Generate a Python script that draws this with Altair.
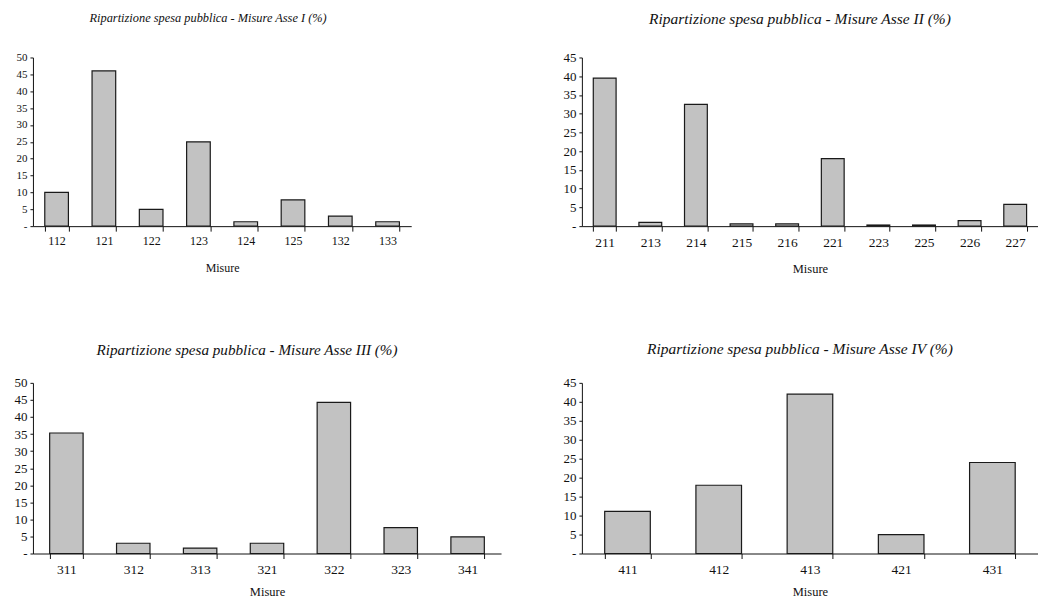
import altair as alt
import pandas as pd

# ---- data ----
codes_1 = ["112", "121", "122", "123", "124", "125", "132", "133"]
vals_1 = [10.0, 46.0, 5.0, 25.0, 1.3, 7.8, 3.0, 1.3]

codes_2 = ["211", "213", "214", "215", "216", "221", "223", "225", "226", "227"]
vals_2 = [39.5, 1.0, 32.5, 0.6, 0.6, 18.0, 0.3, 0.3, 1.5, 5.8]

codes_3 = ["311", "312", "313", "321", "322", "323", "341"]
vals_3 = [35.3, 3.0, 1.6, 3.0, 44.3, 7.6, 4.9]

codes_4 = ["411", "412", "413", "421", "431"]
vals_4 = [11.1, 18.0, 42.0, 5.0, 24.0]

titles = [
    "Ripartizione spesa pubblica - Misure Asse I (%)",
    "Ripartizione spesa pubblica - Misure Asse II (%)",
    "Ripartizione spesa pubblica - Misure Asse III (%)",
    "Ripartizione spesa pubblica - Misure Asse IV (%)",
]
y_max = [50, 45, 50, 45]
x_title = "Misure"

FONT = "Liberation Serif"


def panel(codes, vals, title, ymax, width, height, dx, title_size, title_offset,
          xlabel_size, ylabel_size, xt_size, xt_pad):
    df = pd.DataFrame({"Misura": codes, "Valore": vals})
    return (
        alt.Chart(
            df,
            title=alt.Title(
                title,
                font=FONT,
                fontSize=title_size,
                fontStyle="italic",
                fontWeight="normal",
                color="#111111",
                anchor="middle",
                frame="group",
                dx=dx,
                offset=title_offset,
            ),
        )
        .mark_bar(fill="#c2c2c2", stroke="#1a1a1a", strokeWidth=1.2)
        .encode(
            x=alt.X(
                "Misura:N",
                sort=codes,
                title=x_title,
                scale=alt.Scale(paddingInner=0.5, paddingOuter=0.25),
                axis=alt.Axis(
                    labelAngle=0,
                    tickBand="extent",
                    tickSize=5,
                    tickColor="#111111",
                    domainColor="#111111",
                    labelFont=FONT,
                    labelFontSize=xlabel_size,
                    labelColor="#111111",
                    labelPadding=4,
                    titleFont=FONT,
                    titleFontSize=xt_size,
                    titleFontWeight="normal",
                    titleColor="#111111",
                    titlePadding=xt_pad,
                    grid=False,
                ),
            ),
            y=alt.Y(
                "Valore:Q",
                title=None,
                scale=alt.Scale(domain=[0, ymax], nice=False, zero=True),
                axis=alt.Axis(
                    values=list(range(0, ymax + 1, 5)),
                    labelExpr="datum.value == 0 ? '-' : datum.label",
                    tickSize=3,
                    tickColor="#111111",
                    domainColor="#111111",
                    labelFont=FONT,
                    labelFontSize=ylabel_size,
                    labelColor="#111111",
                    labelPadding=3,
                    grid=False,
                    minExtent=25,
                    maxExtent=25,
                ),
            ),
        )
        .properties(width=width, height=height)
    )


p1 = panel(codes_1, vals_1, titles[0], y_max[0], 379, 169, -14, 12.4, 27, 12, 11, 12, 16)
p2 = panel(codes_2, vals_2, titles[1], y_max[1], 457, 169, -10, 15.5, 24, 13.5, 13, 12.5, 14)
p3 = panel(codes_3, vals_3, titles[2], y_max[2], 469, 171, -20, 15.2, 19, 13.5, 13, 12.5, 10)
p4 = panel(codes_4, vals_4, titles[3], y_max[3], 457, 171, -10, 15.5, 19, 13.5, 13, 12.5, 10)

top = alt.hconcat(p1, p2, spacing=146)
bottom = alt.hconcat(p3, p4, spacing=56)

chart = (
    alt.vconcat(top, bottom, spacing=67)
    .properties(padding={"left": 0, "top": 3, "right": 0, "bottom": 0}, background="white")
    .configure_view(stroke=None)
)

chart.save("out.html", embed_options={"renderer": "svg", "actions": False})
